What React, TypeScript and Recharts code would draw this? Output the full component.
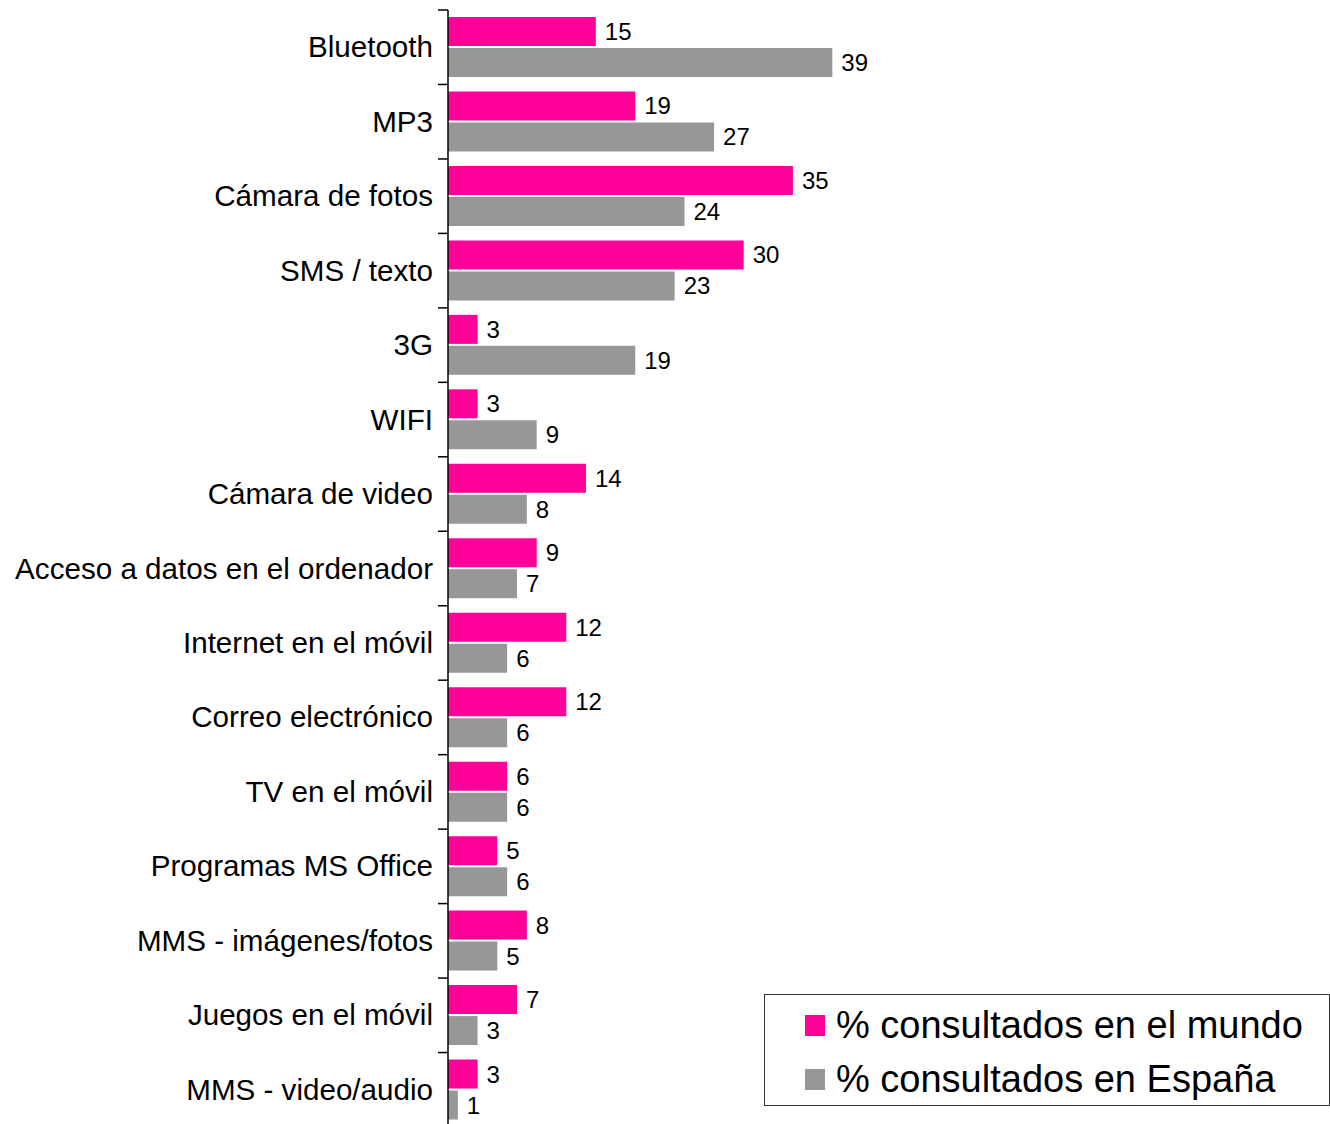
import React from 'react';
import { BarChart, Bar, XAxis, YAxis, LabelList } from 'recharts';

const categories = [
  'Bluetooth',
  'MP3',
  'Cámara de fotos',
  'SMS / texto',
  '3G',
  'WIFI',
  'Cámara de video',
  'Acceso a datos en el ordenador',
  'Internet en el móvil',
  'Correo electrónico',
  'TV en el móvil',
  'Programas MS Office',
  'MMS - imágenes/fotos',
  'Juegos en el móvil',
  'MMS - video/audio',
];
const mundo = [15, 19, 35, 30, 3, 3, 14, 9, 12, 12, 6, 5, 8, 7, 3];
const espana = [39, 27, 24, 23, 19, 9, 8, 7, 6, 6, 6, 6, 5, 3, 1];
const seriesNames = ['% consultados en el mundo', '% consultados en España'];

const PINK = '#FF0099';
const GRAY = '#979797';
const FONT = '"Liberation Sans", Arial, Helvetica, sans-serif';

const data = categories.map((name, i) => ({ name, mundo: mundo[i], espana: espana[i] }));

const CHART_W = 1330;
const CHART_H = 1127;
const TOP = 10;
const BAND = (CHART_H - TOP) / categories.length;
const TICK_MARGIN = 15;

const CategoryTick = (props: any) => {
  const { x, y, payload, index } = props;
  const axisX = x + TICK_MARGIN;
  return (
    <g>
      <line x1={axisX - 10} x2={axisX} y1={y - BAND / 2} y2={y - BAND / 2} stroke="#000" strokeWidth={1.5} />
      {index === categories.length - 1 && (
        <line x1={axisX - 10} x2={axisX} y1={y + BAND / 2} y2={y + BAND / 2} stroke="#000" strokeWidth={1.5} />
      )}
      <text x={x} y={y} textAnchor="end" dy="0.34em" fontSize={29.6} fontFamily={FONT} fill="#000">
        {payload.value}
      </text>
    </g>
  );
};

const LegendBox = () => (
  <div
    style={{
      position: 'absolute',
      left: 764,
      top: 994,
      width: 566,
      height: 112,
      boxSizing: 'border-box',
      border: '1.5px solid #333',
      background: '#fff',
      fontFamily: FONT,
      fontSize: 38,
      color: '#000',
      paddingLeft: 40,
      paddingTop: 3,
    }}
  >
    {[PINK, GRAY].map((c, i) => (
      <div key={i} style={{ display: 'flex', alignItems: 'center', height: 54 }}>
        <span style={{ display: 'inline-block', width: 20, height: 21, background: c, marginRight: 11 }} />
        <span>{seriesNames[i]}</span>
      </div>
    ))}
  </div>
);

export default function App() {
  return (
    <div style={{ position: 'absolute', left: 0, top: 0, width: CHART_W, height: 1124, overflow: 'hidden', background: '#fff' }}>
      <BarChart
        width={CHART_W}
        height={CHART_H}
        data={data}
        layout="vertical"
        margin={{ top: TOP, right: 0, bottom: 0, left: 0 }}
        barSize={29}
        barGap={2}
      >
        <XAxis type="number" domain={[0, 89.5]} hide />
        <YAxis
          type="category"
          dataKey="name"
          width={448}
          tickSize={0}
          tickMargin={TICK_MARGIN}
          tick={<CategoryTick />}
          axisLine={{ stroke: '#000', strokeWidth: 1.5 }}
          interval={0}
        />
        <Bar dataKey="mundo" name={seriesNames[0]} fill={PINK} isAnimationActive={false}>
          <LabelList dataKey="mundo" position="right" offset={9} fontSize={24} fontFamily={FONT} fill="#000" />
        </Bar>
        <Bar dataKey="espana" name={seriesNames[1]} fill={GRAY} isAnimationActive={false}>
          <LabelList dataKey="espana" position="right" offset={9} fontSize={24} fontFamily={FONT} fill="#000" />
        </Bar>
      </BarChart>
      <LegendBox />
    </div>
  );
}
